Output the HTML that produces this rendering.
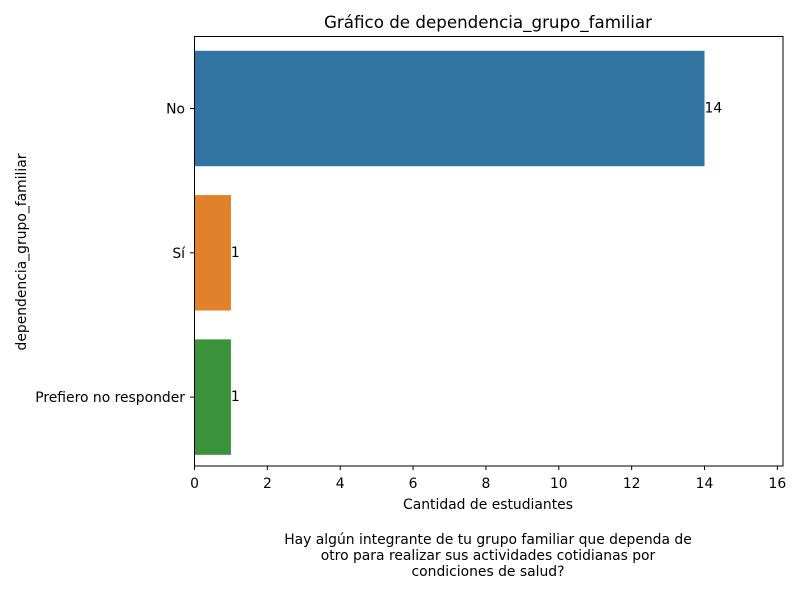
<!DOCTYPE html>
<html><head><meta charset="utf-8"><style>
body{margin:0;background:#fff;}
svg text{font-family:"DejaVu Sans","Liberation Sans",sans-serif;fill:#000;}
</style></head><body>
<svg id="chart" width="800" height="600">
<text x="488" y="28" font-size="16.7" text-anchor="middle">Gráfico de dependencia_grupo_familiar</text>
<g id="bars"></g>
<rect x="194.5" y="36.5" width="588.5" height="429.5" fill="none" stroke="#000" stroke-width="1"/>
<g id="xticks"></g>
<g id="yticks"></g>
<text x="488" y="509" font-size="13.9" text-anchor="middle">Cantidad de estudiantes</text>
<text transform="translate(26,252) rotate(-90)" font-size="13.9" text-anchor="middle">dependencia_grupo_familiar</text>
<text x="488" y="544" font-size="13.9" text-anchor="middle">Hay algún integrante de tu grupo familiar que dependa de</text>
<text x="488" y="560" font-size="13.9" text-anchor="middle">otro para realizar sus actividades cotidianas por</text>
<text x="488" y="576" font-size="13.9" text-anchor="middle">condiciones de salud?</text>
</svg>
<script>
const categories=["No","Sí","Prefiero no responder"];
const values=[14,1,1];
const colors=["#3274a1","#e1812c","#3a923a"];
const xTickValues=[0,2,4,6,8,10,12,14,16];
const NS="http://www.w3.org/2000/svg";
const x0=194.5,xUnit=36.43,band=144.3;
const xs=v=>x0+v*xUnit;
const yc=i=>108.5+band*i;
function mk(t,a){const e=document.createElementNS(NS,t);for(const k in a)e.setAttribute(k,a[k]);return e;}
const bars=document.getElementById('bars');
categories.forEach((c,i)=>{
 const h=band*0.8;
 const r=mk('rect',{x:xs(0),y:yc(i)-h/2,width:xs(values[i])-xs(0),height:h,fill:colors[i]});
 
 
 bars.appendChild(r);
 const t=mk('text',{x:xs(values[i]),y:yc(i)+4,'font-size':13.9});
 t.textContent=values[i];
 
 
 bars.appendChild(t);
});
const xt=document.getElementById('xticks');
xTickValues.forEach(v=>{
 const l=mk('line',{x1:xs(v),x2:xs(v),y1:466,y2:470,stroke:'#000'});
 
 
 xt.appendChild(l);
 const t=mk('text',{x:xs(v),y:488,'font-size':13.9,'text-anchor':'middle'});
 t.textContent=v;
 
 
 xt.appendChild(t);
});
const yt=document.getElementById('yticks');
categories.forEach((c,i)=>{
 const l=mk('line',{x1:190,x2:194.5,y1:yc(i),y2:yc(i),stroke:'#000'});
 
 
 yt.appendChild(l);
 const t=mk('text',{x:185,y:yc(i)+5,'font-size':13.9,'text-anchor':'end'});
 t.textContent=c;
 
 
 yt.appendChild(t);
});
</script>
</body></html>
